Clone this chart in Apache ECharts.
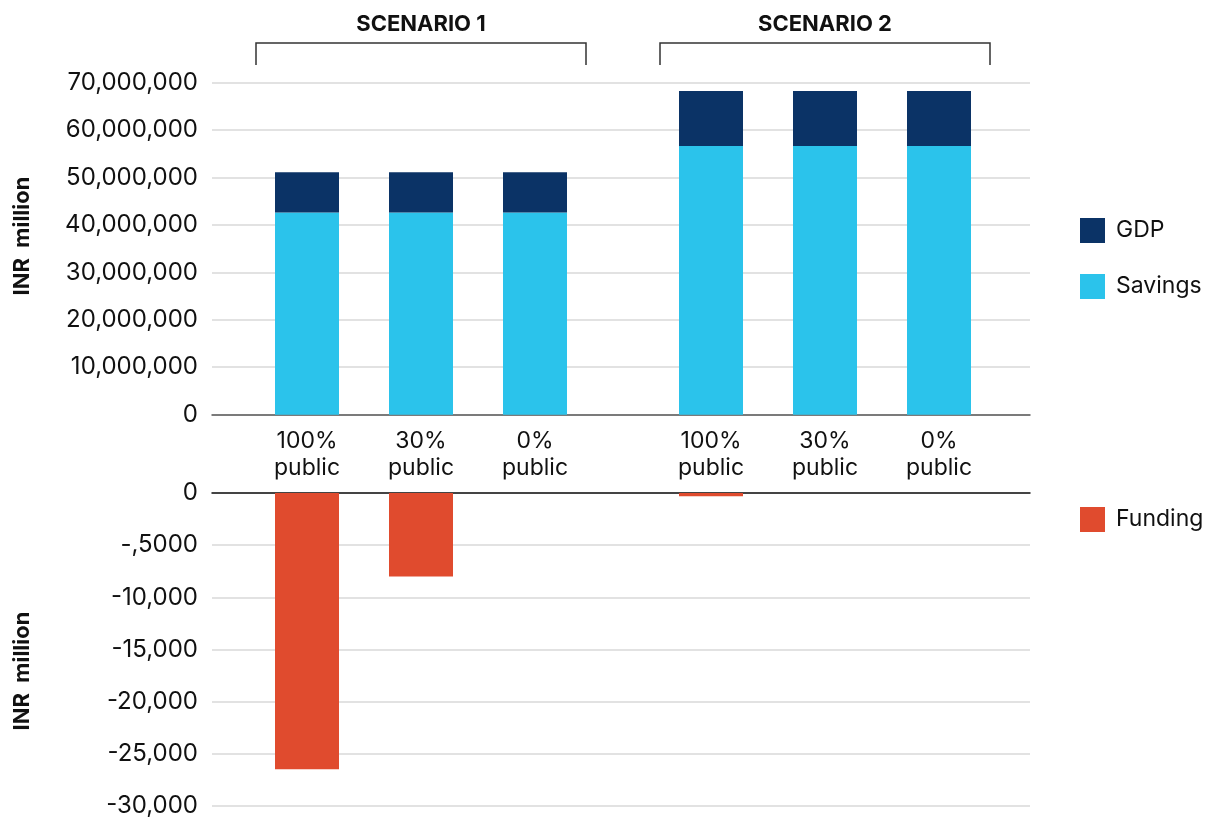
<!DOCTYPE html>
<html>
<head>
<meta charset="utf-8">
<script src="https://cdn.jsdelivr.net/npm/echarts@6/dist/echarts.min.js"></script>
<style>
  html, body { margin: 0; padding: 0; background: #ffffff; }
  #chart { width: 1208px; height: 818px; }
</style>
</head>
<body>
<div id="chart"></div>
<script>
// ---- data ----
const categories = ['100%\npublic', '30%\npublic', '0%\npublic'];
const scenarios = ['SCENARIO 1', 'SCENARIO 2'];

// INR million, stacked: Savings at the base, GDP on top
const savingsS1 = [42600000, 42600000, 42600000];
const gdpS1     = [8500000, 8500000, 8500000];
const savingsS2 = [56600000, 56600000, 56600000];
const gdpS2     = [11600000, 11600000, 11600000];

// INR million, funding requirement (negative)
const fundingS1 = [-26300, -7950, 0];
const fundingS2 = [-300, 0, 0];

const topTickLabels = ['0', '10,000,000', '20,000,000', '30,000,000', '40,000,000', '50,000,000', '60,000,000', '70,000,000'];
const bottomTickLabels = ['-30,000', '-25,000', '-20,000', '-15,000', '-10,000', '-,5000', '0'];

// ---- layout ----
const FONT = 'Inter, "Noto Sans", sans-serif';
const TEXT = '#111111';
const C_GDP = '#0b3366';
const C_SAV = '#2bc3eb';
const C_FUND = '#e04b2e';

const plotLeft = 212, plotWidth = 818;
const topY = 82.5, topH = 332.2;
const botY = 493, botH = 315;
const groupW = 342;
const groupLeft = [250, 654];
const barW = 64;

const topMin = 0, topMax = 70000000, topStep = 10000000;
const botMin = -30000, botMax = 0, botStep = 5000;

const chart = echarts.init(document.getElementById('chart'), null, { renderer: 'canvas' });

const grids = [
  { left: plotLeft, top: topY, width: plotWidth, height: topH },          // 0 top frame
  { left: groupLeft[0], top: topY, width: groupW, height: topH },         // 1 top S1
  { left: groupLeft[1], top: topY, width: groupW, height: topH },         // 2 top S2
  { left: plotLeft, top: botY, width: plotWidth, height: botH },          // 3 bottom frame
  { left: groupLeft[0], top: botY, width: groupW, height: botH },         // 4 bottom S1
  { left: groupLeft[1], top: botY, width: groupW, height: botH }          // 5 bottom S2
];

function frameX(gi, pos, lineColor) {
  return {
    type: 'category', gridIndex: gi, data: ['-'], position: pos,
    axisLine: { show: true, onZero: false, lineStyle: { color: lineColor, width: 1.5 } },
    axisTick: { show: false }, axisLabel: { show: false }, splitLine: { show: false }
  };
}
function groupX(gi, showLabels) {
  return {
    type: 'category', gridIndex: gi, data: categories,
    axisLine: { show: false }, axisTick: { show: false },
    axisLabel: {
      show: showLabels, margin: 13, color: TEXT, fontFamily: FONT,
      fontSize: 23, lineHeight: 27, interval: 0
    }
  };
}
function hiddenY(gi, min, max) {
  return {
    type: 'value', gridIndex: gi, min: min, max: max, show: false,
    splitLine: { show: false }
  };
}

const option = {
  backgroundColor: '#ffffff',
  animation: false,
  grid: grids,
  xAxis: [
    frameX(0, 'bottom', '#5a5a5a'),
    groupX(1, true),
    groupX(2, true),
    frameX(3, 'top', '#111111'),
    groupX(4, false),
    groupX(5, false)
  ],
  yAxis: [
    {
      type: 'value', gridIndex: 0, min: topMin, max: topMax, interval: topStep,
      axisLine: { show: false }, axisTick: { show: false },
      axisLabel: {
        color: TEXT, fontFamily: FONT, fontSize: 24, margin: 14,
        formatter: v => topTickLabels[Math.round((v - topMin) / topStep)]
      },
      splitLine: { lineStyle: { color: '#d9d9d9', width: 1.5 } }
    },
    hiddenY(1, topMin, topMax),
    hiddenY(2, topMin, topMax),
    {
      type: 'value', gridIndex: 3, min: botMin, max: botMax, interval: botStep,
      axisLine: { show: false }, axisTick: { show: false },
      axisLabel: {
        color: TEXT, fontFamily: FONT, fontSize: 24, margin: 14,
        formatter: v => bottomTickLabels[Math.round((v - botMin) / botStep)]
      },
      splitLine: { lineStyle: { color: '#d9d9d9', width: 1.5 } }
    },
    hiddenY(4, botMin, botMax),
    hiddenY(5, botMin, botMax)
  ],
  legend: [
    {
      data: ['GDP', 'Savings'], orient: 'vertical', left: 1075, top: 213,
      icon: 'rect', itemWidth: 25, itemHeight: 25, itemGap: 31,
      textStyle: { color: TEXT, fontFamily: FONT, fontSize: 23, padding: [0, 0, 0, 6] }
    },
    {
      data: ['Funding'], orient: 'vertical', left: 1075, top: 502,
      icon: 'rect', itemWidth: 25, itemHeight: 25,
      textStyle: { color: TEXT, fontFamily: FONT, fontSize: 23, padding: [0, 0, 0, 6] }
    }
  ],
  series: [
    { name: 'Savings', type: 'bar', stack: 's1', xAxisIndex: 1, yAxisIndex: 1, barWidth: barW, itemStyle: { color: C_SAV }, data: savingsS1 },
    { name: 'GDP',     type: 'bar', stack: 's1', xAxisIndex: 1, yAxisIndex: 1, barWidth: barW, itemStyle: { color: C_GDP }, data: gdpS1 },
    { name: 'Savings', type: 'bar', stack: 's2', xAxisIndex: 2, yAxisIndex: 2, barWidth: barW, itemStyle: { color: C_SAV }, data: savingsS2 },
    { name: 'GDP',     type: 'bar', stack: 's2', xAxisIndex: 2, yAxisIndex: 2, barWidth: barW, itemStyle: { color: C_GDP }, data: gdpS2 },
    { name: 'Funding', type: 'bar', xAxisIndex: 4, yAxisIndex: 4, barWidth: barW, itemStyle: { color: C_FUND }, data: fundingS1 },
    { name: 'Funding', type: 'bar', xAxisIndex: 5, yAxisIndex: 5, barWidth: barW, itemStyle: { color: C_FUND }, data: fundingS2 }
  ],
  graphic: []
};

// Scenario brackets and titles above each group
const bracketInset = 6, bracketTop = 43, bracketBottom = 65;
scenarios.forEach((title, i) => {
  const x0 = groupLeft[i] + bracketInset;
  const x1 = groupLeft[i] + groupW - bracketInset;
  const cx = groupLeft[i] + groupW / 2;
  option.graphic.push({
    type: 'polyline', silent: true,
    shape: { points: [[x0, bracketBottom], [x0, bracketTop], [x1, bracketTop], [x1, bracketBottom]] },
    style: { stroke: '#333333', lineWidth: 1.5, fill: null }
  });
  option.graphic.push({
    type: 'text', silent: true, x: cx, y: 24,
    style: {
      text: title, font: 'bold 22px ' + FONT, fill: TEXT,
      textAlign: 'center', textVerticalAlign: 'middle', align: 'center', verticalAlign: 'middle'
    }
  });
});

// Rotated axis titles
[236, 671].forEach(cy => {
  option.graphic.push({
    type: 'text', silent: true, x: 22, y: cy, rotation: Math.PI / 2,
    style: {
      text: 'INR  million', font: 'bold 22px ' + FONT, fill: TEXT,
      textAlign: 'center', textVerticalAlign: 'middle', align: 'center', verticalAlign: 'middle'
    }
  });
});

chart.setOption(option);
</script>
</body>
</html>
